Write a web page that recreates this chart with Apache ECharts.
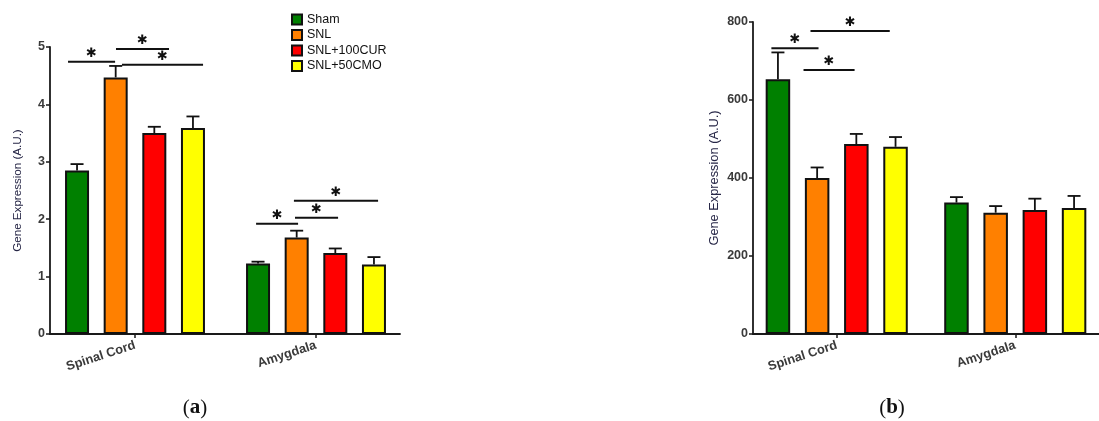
<!DOCTYPE html>
<html><head><meta charset="utf-8">
<script src="https://cdn.jsdelivr.net/npm/echarts@6/dist/echarts.min.js"></script>
<style>html,body{margin:0;padding:0;background:#fff}#c{width:1099px;height:421px}</style>
</head><body><div id="c"></div>
<script>
// ---------- data ----------
const categories = ['Spinal Cord', 'Amygdala'];
const groups = ['Sham', 'SNL', 'SNL+100CUR', 'SNL+50CMO'];
const groupColors = ['#008000', '#FF8000', '#FF0000', '#FFFF00'];

// panel (a): means and SEM, [Spinal Cord, Amygdala]
const aSham = [2.85, 1.23], aShamErr = [0.11, 0.03];
const aSNL = [4.47, 1.68], aSNLErr = [0.20, 0.12];
const aCUR = [3.50, 1.41], aCURErr = [0.11, 0.08];
const aCMO = [3.59, 1.21], aCMOErr = [0.20, 0.13];
const aYTicks = [0, 1, 2, 3, 4, 5];
// significance bars (a): [x from, x to, y] in axis units
const aSig = [[-0.370, -0.110, 4.744], [-0.105, 0.188, 4.965], [-0.072, 0.376, 4.69],
              [0.669, 0.901, 1.92], [0.884, 1.122, 2.026], [0.878, 1.343, 2.322]];

// panel (b)
const bSham = [653, 337], bShamErr = [69, 14];
const bSNL = [400, 311], bSNLErr = [27, 17];
const bCUR = [487, 318], bCURErr = [26, 29];
const bCMO = [480, 323], bCMOErr = [25, 31];
const bYTicks = [0, 200, 400, 600, 800];
const bSig = [[-0.366, -0.102, 733], [-0.147, 0.297, 777], [-0.186, 0.100, 677]];

// ---------- build ----------
const aMeans = [aSham, aSNL, aCUR, aCMO], aErrs = [aShamErr, aSNLErr, aCURErr, aCMOErr];
const bMeans = [bSham, bSNL, bCUR, bCMO], bErrs = [bShamErr, bSNLErr, bCURErr, bCMOErr];

const panels = [
  {means: aMeans, errs: aErrs, sig: aSig, barW: 24, gap: 0.61, ticks: aYTicks},
  {means: bMeans, errs: bErrs, sig: bSig, barW: 24.5, gap: 0.60, ticks: bYTicks}
];

const axisCol = '#1a1a1a';
const labelCol = '#3a3a3a';
const series = [];
panels.forEach((p, pi) => {
  groups.forEach((g, k) => {
    series.push({
      type: 'bar', name: g, xAxisIndex: pi, yAxisIndex: pi,
      barWidth: p.barW, barGap: (p.gap * 100) + '%',
      itemStyle: {color: groupColors[k], borderColor: '#111', borderWidth: 2},
      data: categories.map((c, i) => [i, p.means[k][i]]),
      z: 2, silent: true
    });
  });
  const spacing = p.barW * (1 + p.gap);
  const errData = [];
  groups.forEach((g, k) => categories.forEach((c, i) => errData.push([i, p.means[k][i], p.means[k][i] + p.errs[k][i], k])));
  series.push({
    type: 'custom', xAxisIndex: pi, yAxisIndex: pi, z: 3, clip: false, silent: true,
    data: errData,
    renderItem: (params, api) => {
      const x = api.value(0), k = api.value(3);
      const p0 = api.coord([x, api.value(1)]), p1 = api.coord([x, api.value(2)]);
      const cx = p0[0] + (k - 1.5) * spacing;
      const st = {stroke: '#111', lineWidth: 1.8};
      return {type: 'group', children: [
        {type: 'line', shape: {x1: cx, y1: p0[1], x2: cx, y2: p1[1]}, style: st},
        {type: 'line', shape: {x1: cx - 6.5, y1: p1[1], x2: cx + 6.5, y2: p1[1]}, style: st}
      ]};
    }
  });
  series.push({
    type: 'custom', xAxisIndex: pi, yAxisIndex: pi, z: 4, clip: false, silent: true,
    data: p.sig,
    renderItem: (params, api) => {
      const a = api.coord([api.value(0), api.value(2)]);
      const b = api.coord([api.value(1), api.value(2)]);
      return {type: 'group', children: [
        {type: 'line', shape: {x1: a[0], y1: a[1], x2: b[0], y2: b[1]}, style: {stroke: '#111', lineWidth: 2}},
        {type: 'text', style: {text: '✱', x: (a[0] + b[0]) / 2, y: a[1] - 8.5, align: 'center', verticalAlign: 'middle',
          fill: '#111', fontSize: 13, fontFamily: 'DejaVu Sans', fontWeight: 'bold'}}
      ]};
    }
  });
});

function xAxisCfg(gi, min, max) {
  return {
    type: 'value', gridIndex: gi, min: min, max: max,
    axisLine: {show: true, onZero: false, lineStyle: {color: axisCol, width: 1.8}},
    axisTick: {show: true, customValues: [0, 1], length: 4, lineStyle: {color: axisCol, width: 1.5}},
    axisLabel: {show: true, customValues: [0, 1], rotate: 18, margin: 11,
      formatter: v => categories[Math.round(v)] || '',
      fontFamily: 'Liberation Sans', fontWeight: 'bold', fontSize: 12.8, color: labelCol},
    splitLine: {show: false}
  };
}
function yAxisCfg(gi, ticks, nameGap, nameSize) {
  return {
    type: 'value', gridIndex: gi, min: ticks[0], max: ticks[ticks.length - 1], interval: ticks[1] - ticks[0],
    name: 'Gene Expression (A.U.)', nameLocation: 'middle', nameGap: nameGap,
    nameTextStyle: {fontFamily: 'Liberation Sans', fontSize: nameSize, color: '#262646'},
    axisLine: {show: true, onZero: false, lineStyle: {color: axisCol, width: 1.8}},
    axisTick: {show: true, length: 4, lineStyle: {color: axisCol, width: 1.5}},
    axisLabel: {fontFamily: 'Liberation Sans', fontWeight: 'bold', fontSize: 12.5, color: labelCol, margin: 5},
    splitLine: {show: false}
  };
}

const chart = echarts.init(document.getElementById('c'), null, {renderer: 'canvas'});
chart.setOption({
  animation: false,
  backgroundColor: '#ffffff',
  grid: [
    {left: 50, top: 47, width: 350, height: 287},
    {left: 753, top: 22, width: 355, height: 312}
  ],
  xAxis: [xAxisCfg(0, -0.4696, 1.4641), xAxisCfg(1, -0.469, 1.469)],
  yAxis: [yAxisCfg(0, aYTicks, 26, 11.6), yAxisCfg(1, bYTicks, 32, 12.8)],
  legend: {
    data: groups, orient: 'vertical', left: 286, top: 8, itemWidth: 10, itemHeight: 10, itemGap: 2.5,
    icon: 'rect',
    textStyle: {fontFamily: 'Liberation Sans', fontSize: 12.5, color: '#111'},
    selectedMode: false
  },
  graphic: [
    {type: 'text', x: 195, y: 408, style: {text: '{p|(}{b|a}{p|)}', align: 'center', verticalAlign: 'middle',
      rich: {p: {fontFamily: 'Liberation Serif', fontSize: 21, fill: '#111'}, b: {fontFamily: 'Liberation Serif', fontSize: 21, fontWeight: 'bold', fill: '#111'}}}},
    {type: 'text', x: 892, y: 408, style: {text: '{p|(}{b|b}{p|)}', align: 'center', verticalAlign: 'middle',
      rich: {p: {fontFamily: 'Liberation Serif', fontSize: 21, fill: '#111'}, b: {fontFamily: 'Liberation Serif', fontSize: 21, fontWeight: 'bold', fill: '#111'}}}}
  ],
  series: series
});
</script></body></html>
